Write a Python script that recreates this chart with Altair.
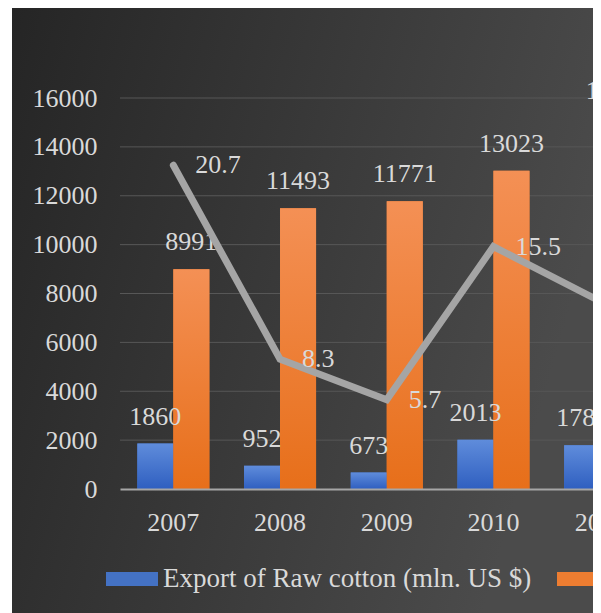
import altair as alt
import pandas as pd

years = ["2007", "2008", "2009", "2010", "2011"]
raw_cotton = [1860, 952, 673, 2013, 1789]
cotton_yarn = [8991, 11493, 11771, 13023, 15200]
share = [20.7, 8.3, 5.7, 15.5, 12.0]
series_names = ["Export of Raw cotton (mln. US $)", "Export of Cotton yarn (mln. US $)"]
y_ticks = [0, 2000, 4000, 6000, 8000, 10000, 12000, 14000, 16000]

bars_df = pd.DataFrame({
    "year": years * 2,
    "series": [series_names[0]] * len(years) + [series_names[1]] * len(years),
    "value": raw_cotton + cotton_yarn,
})
line_df = pd.DataFrame({"year": years, "share": share})
grid_df = pd.DataFrame({"tick": y_ticks[1:]})

FONT = "Liberation Serif"
TXT = "#d9d9d9"
W, H = 473, 391

x_scale = alt.Scale(domain=years, range=[0, 533.5], paddingInner=0.325, paddingOuter=0.1625)
xo_scale = alt.Scale(domain=series_names, paddingInner=0, paddingOuter=0)
y_scale = alt.Scale(domain=[0, 16000], nice=False)


def X(axis=True):
    if axis:
        return alt.X("year:N", scale=x_scale, sort=years,
                     axis=alt.Axis(title=None, labelAngle=0, ticks=False, grid=False,
                                   domain=True, domainColor="#a6a6a6", domainWidth=2,
                                   labelPadding=20, zindex=1))
    return alt.X("year:N", scale=x_scale, sort=years)


XO = alt.XOffset("series:N", scale=xo_scale, sort=series_names)
Y = alt.Y("value:Q", scale=y_scale,
          axis=alt.Axis(title=None, values=y_ticks, format="d", grid=False,
                        domain=False, ticks=False, labelPadding=23, zindex=1))

bg_grad = alt.Gradient(gradient="linear", x1=0, x2=1, y1=0, y2=0.3,
                       stops=[alt.GradientStop(color="#252525", offset=0),
                              alt.GradientStop(color="#4b4b4b", offset=1)])
blue_grad = alt.Gradient(gradient="linear", x1=0, x2=0, y1=0, y2=1,
                         stops=[alt.GradientStop(color="#5f8cdb", offset=0),
                                alt.GradientStop(color="#2f5fc0", offset=1)])
orange_grad = alt.Gradient(gradient="linear", x1=0, x2=0, y1=0, y2=1,
                           stops=[alt.GradientStop(color="#f49055", offset=0),
                                  alt.GradientStop(color="#e76f1a", offset=1)])

bg = alt.Chart(alt.Data(values=[{"k": 1}])).mark_rect(fill=bg_grad).encode(
    x=alt.value(-108), x2=alt.value(W + 10), y=alt.value(-91), y2=alt.value(H + 140))

grid = alt.Chart(grid_df).mark_rule(color="#575757", strokeWidth=1).encode(
    y=alt.Y("tick:Q", scale=y_scale), x=alt.value(0), x2=alt.value(W + 10))

rect_path = "M-1,-0.27L1,-0.27L1,0.27L-1,0.27Z"
base_bars = alt.Chart(bars_df).mark_bar().encode(
    x=X(), xOffset=XO, y=Y,
    color=alt.Color("series:N", sort=series_names,
                    scale=alt.Scale(domain=series_names, range=["#4472c4", "#ed7d31"]),
                    legend=alt.Legend(orient="none", legendX=-14, legendY=455,
                                      direction="horizontal", title=None,
                                      symbolType=rect_path, symbolSize=2704,
                                      symbolStrokeWidth=0, symbolOpacity=1,
                                      labelFont=FONT, labelFontSize=27, labelColor=TXT,
                                      labelOffset=5, columnPadding=25, labelLimit=0,
                                      padding=0)),
)
blue_bars = alt.Chart(bars_df).transform_filter(
    alt.datum.series == series_names[0]).mark_bar(fill=blue_grad).encode(
    x=X(False), xOffset=XO, y=alt.Y("value:Q", scale=y_scale))
orange_bars = alt.Chart(bars_df).transform_filter(
    alt.datum.series == series_names[1]).mark_bar(fill=orange_grad).encode(
    x=X(False), xOffset=XO, y=alt.Y("value:Q", scale=y_scale))
bar_text = alt.Chart(bars_df).mark_text(
    font=FONT, fontSize=26, color=TXT, baseline="middle", dy=-27).encode(
    x=X(False), xOffset=XO, y=alt.Y("value:Q", scale=y_scale), text=alt.Text("value:Q", format="d"))

left = alt.layer(bg, grid, base_bars, blue_bars, orange_bars, bar_text)

y2 = alt.Y("share:Q", scale=alt.Scale(domain=[0, 25], nice=False), axis=None)
line = alt.Chart(line_df).mark_line(color="#a5a5a5", strokeWidth=7, strokeCap="round").encode(
    x=X(False), y=y2)
line_text = alt.Chart(line_df).mark_text(
    font=FONT, fontSize=26, color=TXT, align="left", baseline="middle", dx=22).encode(
    x=X(False), y=y2, text=alt.Text("share:Q", format=".1f"))
right = alt.layer(line, line_text)

chart = alt.layer(left, right).resolve_scale(y="independent").properties(
    width=W, height=H,
    padding={"left": 112, "top": 90, "right": 0, "bottom": 124},
    autosize=alt.AutoSizeParams(type="none"),
).configure_view(stroke=None).configure_axis(
    labelFont=FONT, labelFontSize=26, labelColor=TXT
)

chart.save("out.html", embed_options={"renderer": "svg", "actions": False})
